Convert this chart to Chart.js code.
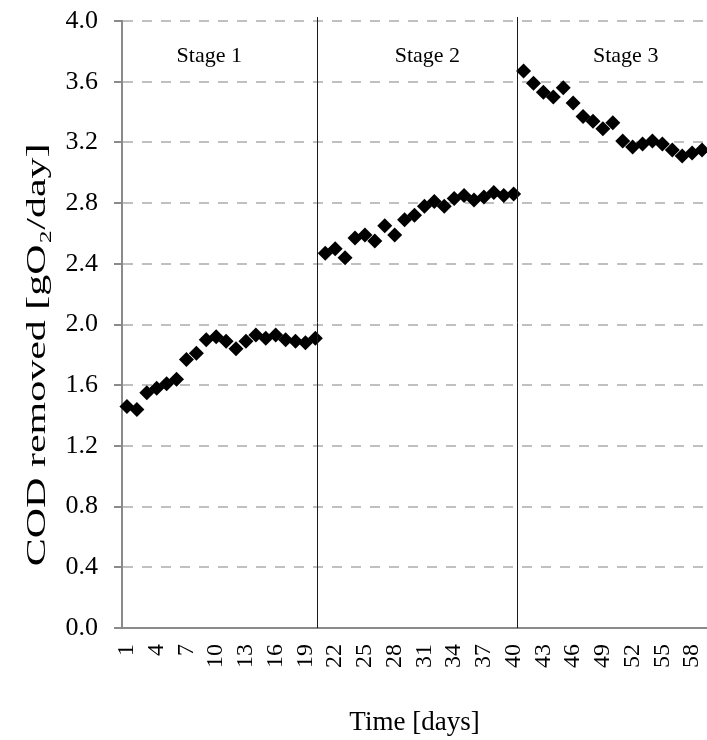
<!DOCTYPE html>
<html>
<head>
<meta charset="utf-8">
<script src="https://cdn.jsdelivr.net/npm/chart.js@4"></script>
<style>
  html, body { margin: 0; padding: 0; background: #fff; }
  #wrap { width: 707px; height: 740px; position: relative; }
</style>
</head>
<body>
<div id="wrap"><canvas id="codChart"></canvas></div>
<script>
// days 1..59
const days = [];
for (let d = 1; d <= 59; d++) days.push(String(d));

// COD removed [gO2/day]
const codStage1 = [1.46, 1.44, 1.55, 1.58, 1.61, 1.64, 1.77, 1.81, 1.90, 1.92,
                   1.89, 1.84, 1.89, 1.93, 1.91, 1.93, 1.90, 1.89, 1.88, 1.91];
const codStage2 = [2.47, 2.50, 2.44, 2.57, 2.59, 2.55, 2.65, 2.59, 2.69, 2.72,
                   2.78, 2.81, 2.78, 2.83, 2.85, 2.82, 2.84, 2.87, 2.85, 2.86];
const codStage3 = [3.67, 3.59, 3.53, 3.50, 3.56, 3.46, 3.37, 3.34, 3.29, 3.33,
                   3.21, 3.17, 3.19, 3.21, 3.19, 3.15, 3.11, 3.13, 3.15];
const codRemoved = codStage1.concat(codStage2, codStage3);

const yTicks = [0, 0.4, 0.8, 1.2, 1.6, 2.0, 2.4, 2.8, 3.2, 3.6, 4.0];

const stageNames = ['Stage 1', 'Stage 2', 'Stage 3'];
const stageLabelDay = [9.3, 31.3, 51.3];
const stageBreakDay = [20.2, 40.35];

const yTitle = 'COD removed [gO\u2082/day]';

const serif = '"Liberation Serif", "Times New Roman", serif';

const stagePlugin = {
    id: 'stages',
    afterDatasetsDraw(chart) {
        const ctx = chart.ctx;
        const x = chart.scales.x;
        const y = chart.scales.y;
        ctx.save();
        ctx.strokeStyle = '#1a1a1a';
        ctx.lineWidth = 1;
        stageBreakDay.forEach(function (d) {
            const px = Math.round(x.getPixelForValue(d - 1)) + 0.5;
            ctx.beginPath();
            ctx.moveTo(px, y.getPixelForValue(4.0) - 4);
            ctx.lineTo(px, y.getPixelForValue(0));
            ctx.stroke();
        });
        ctx.fillStyle = '#000';
        ctx.font = '22px ' + serif;
        ctx.textAlign = 'center';
        ctx.textBaseline = 'middle';
        stageNames.forEach(function (name, i) {
            ctx.fillText(name, x.getPixelForValue(stageLabelDay[i] - 1), y.getPixelForValue(3.77));
        });
        ctx.restore();
    }
};

// y axis title, stretched along its length like the original
const yTitlePlugin = {
    id: 'yTitle',
    afterDraw(chart) {
        const ctx = chart.ctx;
        const y = chart.scales.y;
        ctx.save();
        ctx.translate(45, y.getPixelForValue(1.8));
        ctx.rotate(-Math.PI / 2);
        ctx.scale(1.5, 1);
        ctx.fillStyle = '#000';
        ctx.font = '28px ' + serif;
        ctx.textAlign = 'center';
        ctx.textBaseline = 'alphabetic';
        ctx.fillText(yTitle, 0, 0);
        ctx.restore();
    }
};

const ctx = document.getElementById('codChart').getContext('2d');
const chart = new Chart(ctx, {
    type: 'line',
    data: {
        labels: days,
        datasets: [{
            data: codRemoved,
            showLine: false,
            pointStyle: 'rectRot',
            pointRadius: 7.5,
            pointBorderWidth: 0,
            pointBackgroundColor: '#000',
            pointBorderColor: '#000'
        }]
    },
    options: {
        responsive: true,
        maintainAspectRatio: false,
        animation: false,
        layout: { autoPadding: false, padding: { top: 21, right: 0, bottom: 0, left: 0 } },
        plugins: {
            legend: { display: false },
            tooltip: { enabled: false }
        },
        scales: {
            x: {
                type: 'category',
                offset: true,
                grid: { display: false },
                border: { display: true, color: '#8a8a8a', width: 2 },
                ticks: {
                    autoSkip: false,
                    maxRotation: 90,
                    minRotation: 90,
                    padding: 8,
                    color: '#000',
                    font: { family: serif, size: 24 },
                    callback: function (val, i) {
                        return i % 3 === 0 ? days[i] : '';
                    }
                },
                title: {
                    display: true,
                    text: 'Time [days]',
                    color: '#000',
                    font: { family: serif, size: 27 },
                    padding: { top: 0, bottom: 1 }
                },
                afterFit: function (scale) {
                    scale.height = 112;
                    scale.paddingLeft = 0;
                    scale.paddingRight = 0;
                }
            },
            y: {
                min: 0,
                max: 4,
                afterBuildTicks: function (scale) {
                    scale.ticks = yTicks.map(function (v) { return { value: v }; });
                },
                grid: {
                    color: '#c0c0c0',
                    lineWidth: 2,
                    tickColor: '#8a8a8a',
                    tickLength: 8
                },
                border: { display: true, color: '#8a8a8a', width: 2, dash: [10, 9] },
                ticks: {
                    padding: 16,
                    color: '#000',
                    font: { family: serif, size: 26 },
                    callback: function (v) { return Number(v).toFixed(1); }
                },
                title: { display: false },
                afterFit: function (scale) {
                    scale.width = 122;
                    scale.paddingTop = 0;
                    scale.paddingBottom = 0;
                }
            }
        }
    },
    plugins: [stagePlugin, yTitlePlugin]
});
</script>
</body>
</html>
